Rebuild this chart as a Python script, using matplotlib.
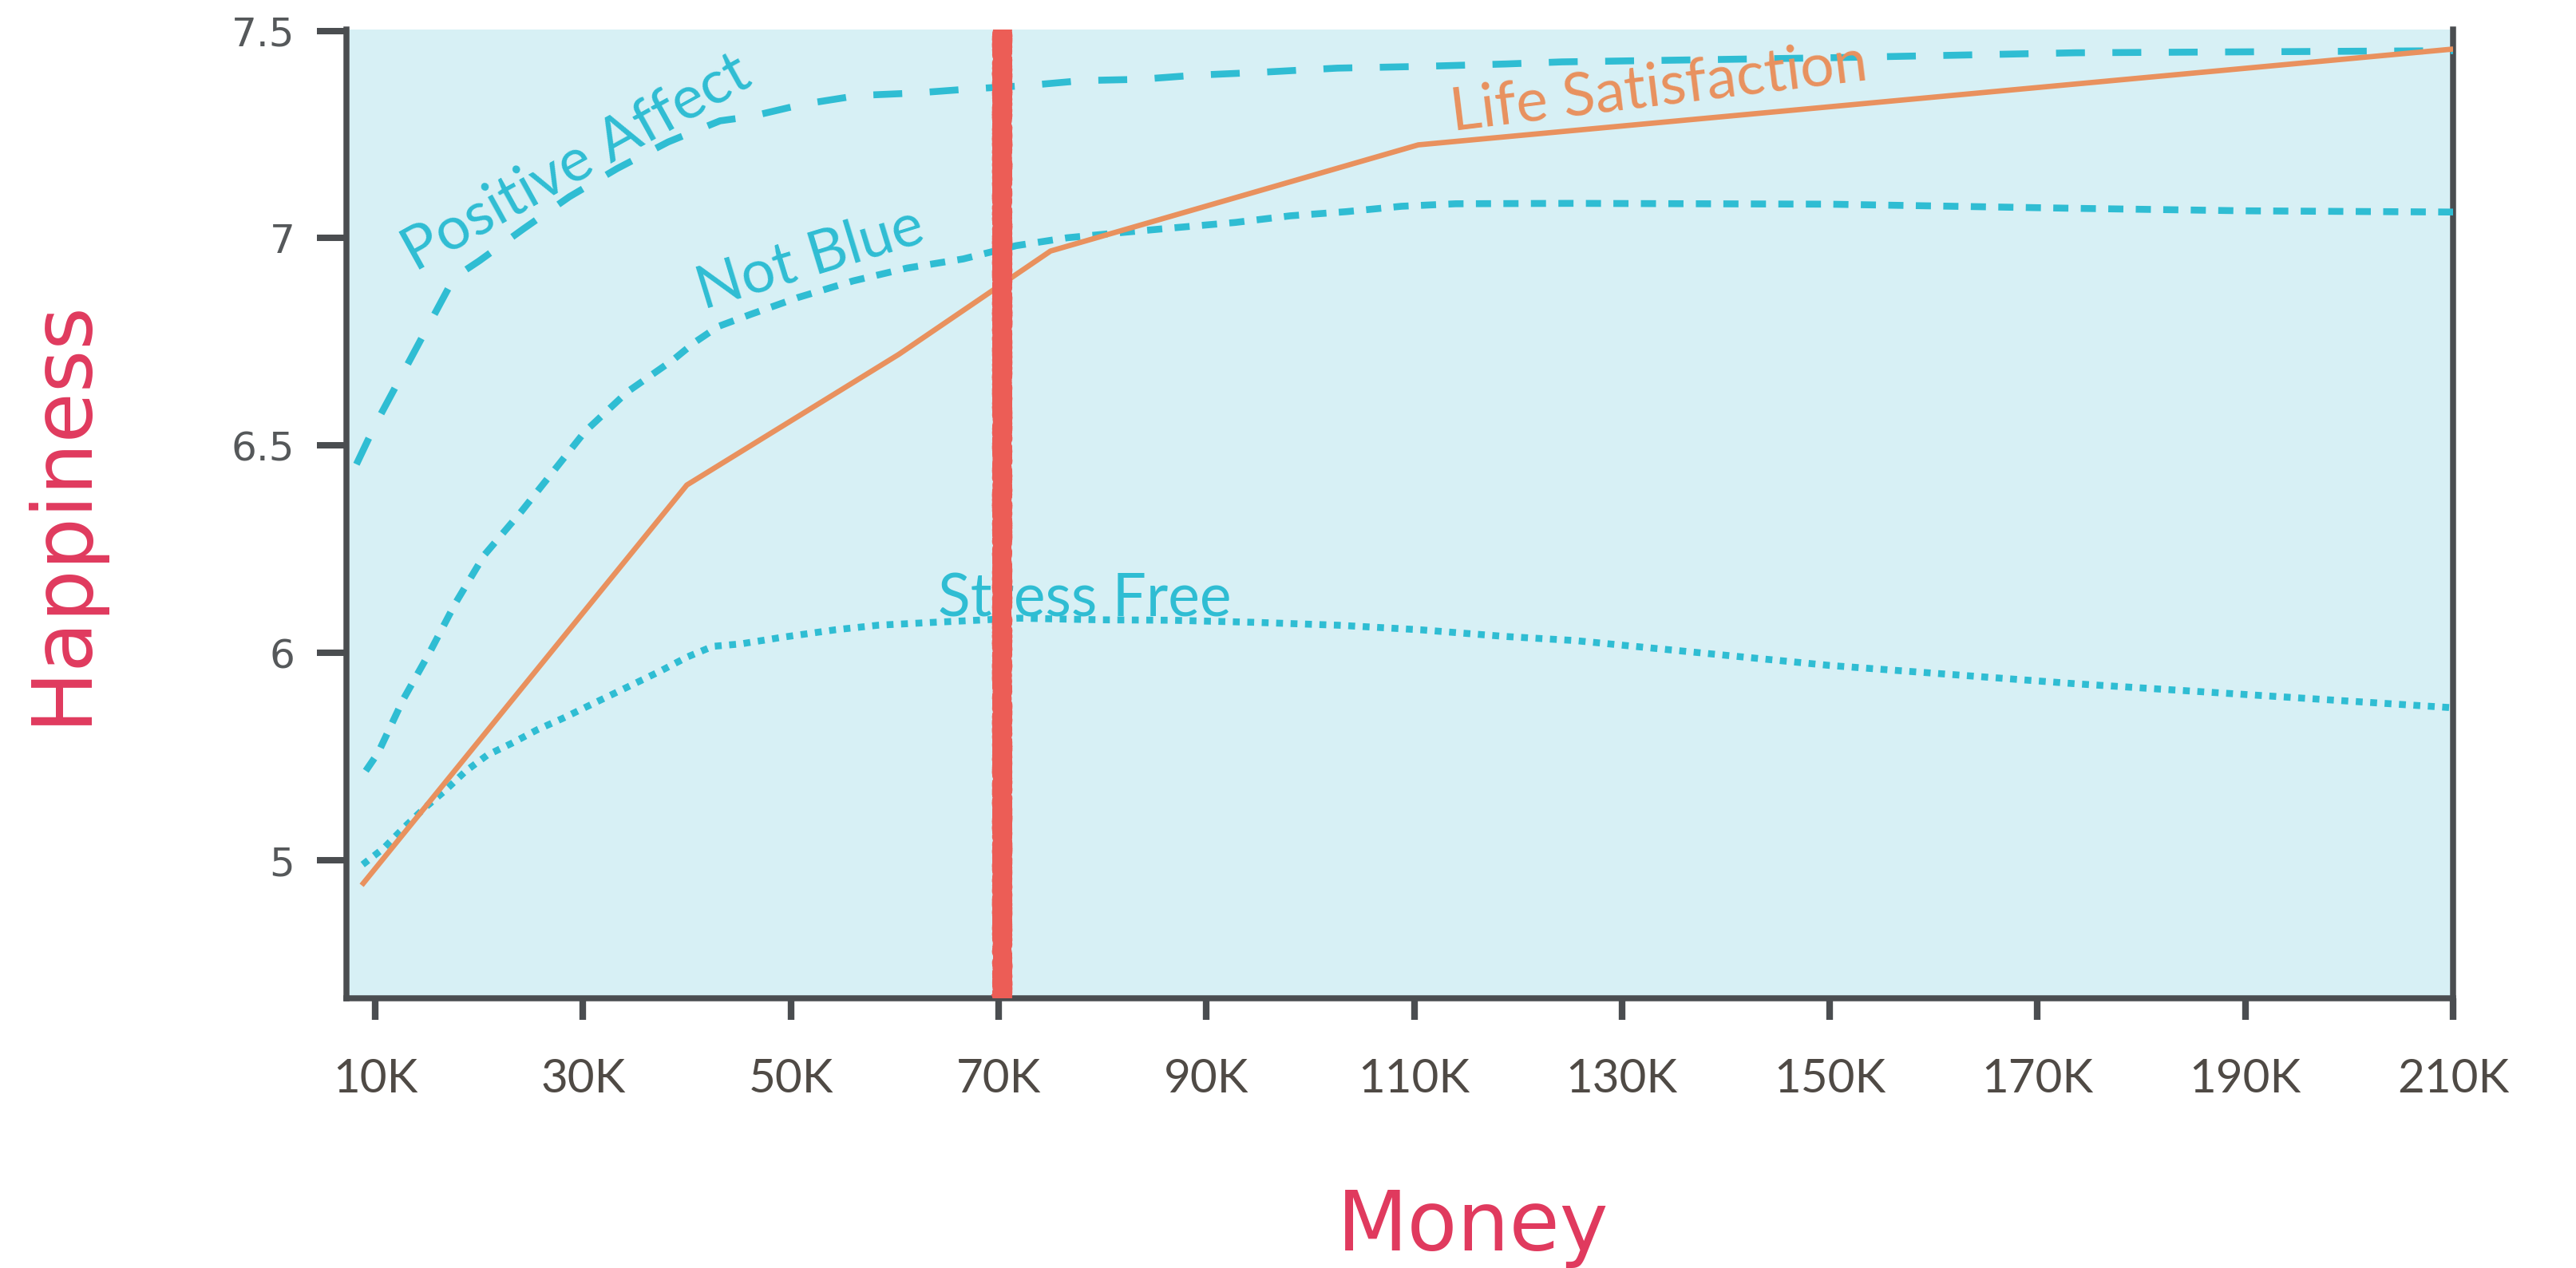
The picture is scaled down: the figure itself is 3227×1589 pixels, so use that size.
# imports
import matplotlib
matplotlib.use('Agg')
import matplotlib.pyplot as plt

# data (money in K, happiness score)
life_x = [8.7, 40, 60.4, 75, 110.4, 210]
life_y = [5.44, 6.405, 6.72, 6.969, 7.225, 7.456]

positive_x = [8.2, 10, 17.6, 20, 24.3, 28.7, 33.3, 38.2, 43.2, 46.1, 51.2, 56.5, 62, 67.4,
              72.7, 78.1, 83.6, 89, 95.3, 102.6, 110.5, 118.8, 124.2, 150, 173.6, 210]
positive_y = [6.455, 6.55, 6.905, 6.945, 7.023, 7.10, 7.168, 7.232, 7.283, 7.293, 7.323, 7.344, 7.35, 7.36,
              7.368, 7.38, 7.383, 7.393, 7.40, 7.41, 7.414, 7.42, 7.425, 7.435, 7.447, 7.452]

notblue_x = [9.1, 10.3, 12.7, 15.3, 17.7, 20.5, 24.1, 30.2, 34.3, 38.7, 40.7, 43, 46.1, 50.7, 56,
             61.2, 66.6, 71.7, 76.6, 82, 87.3, 92.8, 98.1, 103.5, 108.8, 114, 125, 150, 173.6, 190, 210]
notblue_y = [5.716, 5.76, 5.888, 6.004, 6.119, 6.236, 6.342, 6.534, 6.63, 6.707, 6.748, 6.787, 6.816, 6.857, 6.897,
             6.928, 6.95, 6.982, 7.001, 7.014, 7.026, 7.038, 7.054, 7.064, 7.077, 7.083, 7.084, 7.082, 7.072, 7.066, 7.063]

stress_x = [8.8, 10.8, 12.8, 14.7, 16.8, 18.7, 20.8, 23.2, 25.6, 28.1, 30.4, 32.8, 35.2, 37.5, 40, 42.5,
            45.2, 49.2, 54.3, 58.4, 63.8, 72, 79.9, 86.6, 94.6, 102.7, 110.6, 118.7, 125.5, 150, 173.6, 190, 210]
stress_y = [5.49, 5.529, 5.58, 5.625, 5.67, 5.715, 5.754, 5.783, 5.815, 5.843, 5.871, 5.90, 5.929, 5.957, 5.99, 6.016,
            6.022, 6.038, 6.056, 6.067, 6.074, 6.084, 6.08, 6.079, 6.074, 6.067, 6.056, 6.04, 6.03, 5.97, 5.926, 5.90, 5.868]

red_line_x = 70.3

x_ticks = [10, 30, 50, 70, 90, 110, 130, 150, 170, 190, 210]
x_tick_labels = ['10K', '30K', '50K', '70K', '90K', '110K', '130K', '150K', '170K', '190K', '210K']
# the original puts the "5" label where 5.5 would be
y_ticks = [5.5, 6, 6.5, 7, 7.5]
y_tick_labels = ['5', '6', '6.5', '7', '7.5']

# colours
teal = '#2FBDD3'
orange = '#E9915E'
red = '#EC5D56'
crimson = '#E03A5E'
spine_color = '#4A4D50'
bg = '#D7F0F5'

# figure
fig = plt.figure(figsize=(16.135, 7.945), dpi=200)
ax = fig.add_axes([0.1345, 0.2125, 0.8178, 0.7642])
ax.set_facecolor(bg)

ax.plot(positive_x, positive_y, color=teal, linewidth=3.1, dashes=(4.2, 4.0), dash_capstyle='butt', zorder=3)
ax.plot(notblue_x, notblue_y, color=teal, linewidth=3.1, dashes=(2.2, 1.8), dash_capstyle='butt', zorder=3)
ax.plot(stress_x, stress_y, color=teal, linewidth=3.1, dashes=(1.0, 1.1), dash_capstyle='butt', zorder=3)
ax.plot(life_x, life_y, color=orange, linewidth=2.4, solid_capstyle='butt', zorder=4)

# series labels
label_font = dict(family=['Lato', 'DejaVu Sans'], fontsize=27, rotation_mode='anchor', ha='left', va='baseline')
ax.text(13.8, 6.92, 'Positive Affect', rotation=29, color=teal, **label_font)
ax.text(41.6, 6.828, 'Not Blue', rotation=17, color=teal, **label_font)
ax.text(64.2, 6.089, 'Stress Free', rotation=0, color=teal, **label_font)
ax.text(113.7, 7.26, 'Life Satisfaction', rotation=7, color=orange, **label_font)

# the crayon-like red line at 70K
red_line = ax.axvline(red_line_x, color=red, linewidth=7.5, zorder=6)
red_line.set_sketch_params(scale=2.5, length=3, randomness=2)
red_edge = ax.axvline(red_line_x, color=red, linewidth=5.5, zorder=6)
red_edge.set_sketch_params(scale=4, length=2, randomness=3)

# axes
ax.set_xlim(7.24, 210)
ax.set_ylim(5.167, 7.503)
ax.set_xticks(x_ticks)
ax.set_xticklabels(x_tick_labels, family=['Lato', 'DejaVu Sans'], fontsize=21, color='#4F4A45')
ax.set_yticks(y_ticks)
ax.set_yticklabels(y_tick_labels, family='DejaVu Sans', fontsize=18, color='#55585A')

ax.spines['top'].set_visible(False)
for side in ['left', 'bottom', 'right']:
    ax.spines[side].set_color(spine_color)
    ax.spines[side].set_linewidth(2.7)

ax.tick_params(axis='y', length=13.3, width=2.9, color=spine_color, pad=10)
ax.tick_params(axis='x', length=9.7, width=3.0, color=spine_color, pad=17)

# axis titles
fig.text(0.0239, 0.5966, 'Happiness', rotation=90, ha='center', va='center',
         fontsize=37, color=crimson, family='DejaVu Sans')
fig.text(0.5717, 0.0315, 'Money', ha='center', va='center',
         fontsize=37, color=crimson, family='DejaVu Sans')

## fileout
fig.savefig('out.png', dpi=200, facecolor='white')
